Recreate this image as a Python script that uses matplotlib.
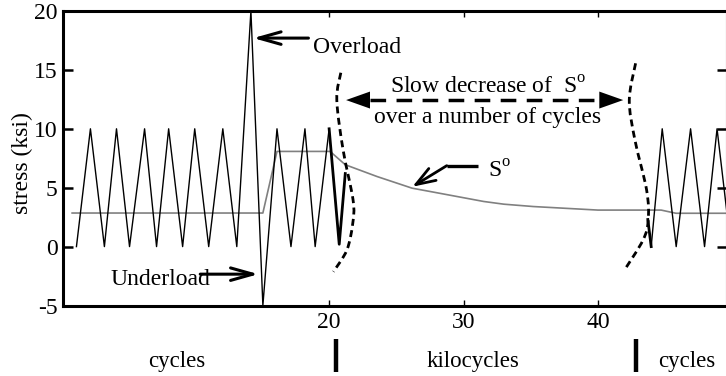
import numpy as np
import matplotlib
matplotlib.use("Agg")
import matplotlib.pyplot as plt
from matplotlib.path import Path
from matplotlib.patches import PathPatch, Polygon
from matplotlib.lines import Line2D

plt.rcParams['font.family'] = ['Liberation Serif', 'DejaVu Serif']
plt.rcParams['mathtext.fontset'] = 'custom'
plt.rcParams['mathtext.rm'] = 'Liberation Serif'

# load history before the break (cycles)
wave1_x = [1.2, 2.24, 3.28, 4.18, 5.15, 6.27, 7.16, 8.06, 9.1, 10.0, 11.04,
           12.09, 13.13, 14.18, 15.07, 16.12, 17.16, 18.2, 18.96, 20.0]
wave1_y = [0, 10, 0, 10, 0, 10, 0, 10, 0, 10, 0, 10, 0, 20, -5, 10, 0, 10, 0, 10]
# last cycle drawn heavier at the break
tail1_x = [20.0, 20.75, 21.2]
tail1_y = [10, 0.2, 6.2]

# load history after the break
tail2_x = [43.71, 43.96]
tail2_y = [2.3, 0]
wave2_x = [43.96, 44.78, 45.82, 46.89, 47.93, 48.86, 49.89]
wave2_y = [0, 10, 0, 10, 0, 10, 0]

# S° (opening stress)
so_x = [0.88, 15.07, 16.12, 20.07, 21.2, 23.56, 26.17, 27.5, 31.5, 33.0, 35.2,
        40.0, 44.7, 45.8, 49.7]
so_y = [2.85, 2.85, 8.08, 8.08, 6.95, 5.95, 4.96, 4.68, 3.83, 3.6, 3.4,
        3.1, 3.1, 2.83, 2.83]

yticks = [-5, 0, 5, 10, 15, 20]
xticks = [20, 30, 40]

# break marks (points the curve passes through)
brk1 = [(20.87, 14.76), (20.57, 12.44), (21.04, 8.2), (21.78, 3.96),
        (21.76, 2.0), (21.32, -0.29), (20.32, -2.13)]
brk2 = [(42.80, 15.56), (42.33, 12.44), (42.75, 9.05), (43.62, 4.8),
        (43.74, 2.25), (43.35, 0.55), (42.0, -1.94)]


def smooth_path(pts):
    # catmull-rom through the points, as cubic bezier segments
    p = np.array(pts, dtype=float)
    p = np.vstack([p[0], p, p[-1]])
    verts = [tuple(p[1])]
    codes = [Path.MOVETO]
    for i in range(1, len(p) - 2):
        c1 = p[i] + (p[i + 1] - p[i - 1]) / 6
        c2 = p[i + 1] - (p[i + 2] - p[i]) / 6
        verts += [tuple(c1), tuple(c2), tuple(p[i + 1])]
        codes += [Path.CURVE4] * 3
    return Path(verts, codes)


fig = plt.figure(figsize=(7.26, 3.76), dpi=100)
ax = fig.add_axes([63 / 726, 1 - 305.5 / 376, 664 / 726, 294.5 / 376])

ax.plot(so_x, so_y, color='#808080', lw=1.2, zorder=2)
ax.plot(wave1_x, wave1_y, color='black', lw=1.0, zorder=3)
ax.plot(tail1_x, tail1_y, color='black', lw=2.0, zorder=3)
ax.plot(wave2_x, wave2_y, color='black', lw=1.0, zorder=3)
ax.plot(tail2_x, tail2_y, color='black', lw=2.0, zorder=3)

for pts in (brk1, brk2):
    ax.add_patch(PathPatch(smooth_path(pts), fill=False, color='black', lw=2.0,
                           linestyle=(0, (2.5, 1.6)), zorder=4))

ax.set_xlim(0.2, 49.6)
ax.set_ylim(-5, 20)
ax.set_yticks(yticks)
ax.set_yticklabels([str(v) for v in yticks])
ax.set_xticks(xticks)
ax.set_xticklabels([str(v) for v in xticks])
ax.tick_params(axis='y', which='both', direction='in', length=7, width=1.8,
               left=True, right=True, labelsize=17, pad=4)
ax.tick_params(axis='x', which='both', direction='in', length=4, width=1.0,
               top=True, bottom=True, labelsize=17, pad=5)
for s in ax.spines.values():
    s.set_linewidth(2.2)

fig.text(22 / 726, 1 - 163 / 376, 'stress (ksi)', fontsize=17, rotation=90,
         ha='center', va='center')

# annotations
ax.annotate('', xy=(14.35, 17.7), xytext=(18.46, 17.7),
            arrowprops=dict(arrowstyle='->,head_length=1.6,head_width=0.45',
                            mutation_scale=10, lw=2.2, color='black',
                            shrinkA=0, shrinkB=0))
ax.text(18.83, 16.43, 'Overload', fontsize=17, ha='left', va='baseline')

ax.text(3.72, -3.26, 'Underload', fontsize=17, ha='left', va='baseline')
ax.annotate('', xy=(14.74, -2.34), xytext=(10.41, -2.34),
            arrowprops=dict(arrowstyle='->,head_length=1.6,head_width=0.45',
                            mutation_scale=10, lw=2.2, color='black',
                            shrinkA=0, shrinkB=0))

# S° pointer
ax.plot([28.75, 31.1], [6.87, 6.87], color='black', lw=2.4,
        solid_capstyle='butt')
ax.annotate('', xy=(26.19, 5.08), xytext=(28.75, 6.87),
            arrowprops=dict(arrowstyle='->,head_length=1.4,head_width=0.5',
                            mutation_scale=10, lw=2.0, color='black',
                            shrinkA=0, shrinkB=0))
ax.text(31.82, 5.82, r'S$^\mathrm{o}$', fontsize=17, ha='left', va='baseline')

# dashed double arrow
ya = 12.44
hl, hw = 1.78, 0.72
ax.plot([21.26 + hl, 41.88 - hl], [ya, ya], color='black', lw=2.5,
        linestyle=(0, (4.5, 3)), zorder=3)
ax.add_patch(Polygon([(21.26, ya), (21.26 + hl, ya + hw), (21.26 + hl, ya - hw)],
                     closed=True, color='black', lw=0))
ax.add_patch(Polygon([(41.88, ya), (41.88 - hl, ya + hw), (41.88 - hl, ya - hw)],
                     closed=True, color='black', lw=0))
ax.text(31.82, 13.01, r'Slow decrease of  S$^\mathrm{o}$', fontsize=17,
        ha='center', va='baseline', zorder=5)
ax.text(31.79, 10.49, 'over a number of cycles', fontsize=17,
        ha='center', va='baseline', zorder=5)

# axis break captions under the x axis
yb = 1 - 367 / 376
fig.text(177 / 726, yb, 'cycles', fontsize=16.5, ha='center', va='baseline')
fig.text(473 / 726, yb, 'kilocycles', fontsize=16.5, ha='center', va='baseline')
fig.text(686.5 / 726, yb, 'cycles', fontsize=16.5, ha='center', va='baseline')
for px in (335.5, 635.5):
    fig.add_artist(Line2D([px / 726, px / 726], [1 - 339 / 376, 1 - 372 / 376],
                          color='black', lw=3.2, solid_capstyle='butt'))

fig.savefig('out.png', dpi=100)
